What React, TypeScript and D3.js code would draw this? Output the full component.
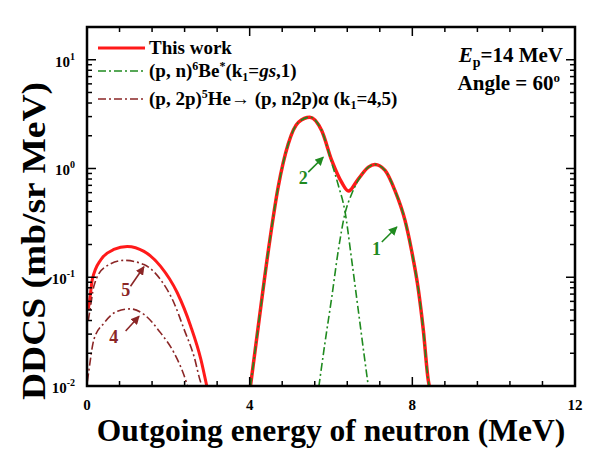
import React from "react";
import * as d3 from "d3";

// outgoing neutron energy (MeV) and DDCS (mb/sr MeV)
const totalLowE = [0.02, 0.05, 0.13, 0.34, 0.66, 0.99, 1.4, 1.81, 2.22, 2.55, 2.8, 2.95];
const totalLowV = [0.05, 0.056, 0.095, 0.145, 0.18, 0.192, 0.173, 0.126, 0.072, 0.0355, 0.0176, 0.0098];
const totalHighE = [4.02, 4.21, 4.46, 4.7, 4.95, 5.2, 5.48, 5.77, 6.02, 6.26, 6.43, 6.67, 6.92, 7.08, 7.33, 7.57, 7.82, 7.98, 8.15, 8.27, 8.39, 8.42];
const totalHighV = [0.01, 0.035, 0.177, 0.673, 1.69, 2.66, 2.96, 2.23, 1.18, 0.748, 0.62, 0.8, 1.03, 1.09, 0.96, 0.63, 0.333, 0.177, 0.076, 0.0327, 0.0114, 0.0098];

const k2E = [4.02, 4.21, 4.46, 4.7, 4.95, 5.2, 5.48, 5.77, 6.02, 6.18, 6.34, 6.51, 6.67, 6.82, 6.92];
const k2V = [0.01, 0.035, 0.177, 0.673, 1.69, 2.66, 2.96, 2.23, 1.12, 0.7, 0.41, 0.143, 0.05, 0.0186, 0.0098];
const k1E = [5.7, 5.85, 6.02, 6.18, 6.34, 6.51, 6.67, 6.92, 7.08, 7.33, 7.57, 7.82, 7.98, 8.15, 8.27, 8.39, 8.42];
const k1V = [0.0098, 0.0247, 0.066, 0.177, 0.38, 0.586, 0.78, 1.03, 1.09, 0.96, 0.63, 0.333, 0.177, 0.076, 0.0327, 0.0114, 0.0098];

const k5E = [0.03, 0.07, 0.17, 0.42, 0.91, 1.4, 1.81, 2.14, 2.39, 2.63, 2.8, 2.84];
const k5V = [0.04, 0.049, 0.083, 0.122, 0.143, 0.131, 0.095, 0.058, 0.033, 0.0188, 0.0107, 0.0098];
const k4E = [0.01, 0.05, 0.17, 0.42, 0.75, 1.07, 1.4, 1.81, 2.14, 2.39, 2.48];
const k4V = [0.011, 0.0142, 0.0268, 0.038, 0.0488, 0.0512, 0.0455, 0.0308, 0.0202, 0.0124, 0.0098];

const xMajor = [0, 4, 8, 12];
const yMajor = [0.01, 0.1, 1, 10];
const yExp = ["-2", "-1", "0", "1"];

// curve labels (text, E, DDCS) and their arrows (from -> to)
const labelText = ["5", "4", "2", "1"];
const labelE = [0.95, 0.66, 5.32, 7.12];
const labelV = [0.067, 0.025, 0.72, 0.16];
const arrowFromE = [1.07, 0.95, 5.44, 7.25];
const arrowFromV = [0.0826, 0.032, 0.925, 0.211];
const arrowToE = [1.4, 1.28, 5.81, 7.62];
const arrowToV = [0.125, 0.0438, 1.27, 0.29];

const RED = "#ff1a1a";
const GREEN = "#1f8a1f";
const BROWN = "#8b2626";
const FONT = "'Liberation Serif', 'Times New Roman', serif";
const DASHDOT = "8 3 2 3";

function zip(es: number[], vs: number[]) {
  return es.map((e, i) => [e, vs[i]] as [number, number]);
}

export default function App() {
  const width = 600, height = 452;
  const left = 87, right = 575, top = 27, bottom = 386;

  const x = d3.scaleLinear().domain([0, 12]).range([left, right]);
  const y = d3.scaleLog().domain([0.01, 20]).range([bottom, top]);

  const line = d3.line<[number, number]>()
    .x(d => x(d[0]))
    .y(d => y(d[1]))
    .curve(d3.curveMonotoneX);

  const xMinor = d3.range(0, 12.001, 0.8).filter(v => !xMajor.some(m => Math.abs(m - v) < 1e-6));
  const yMinor: number[] = [];
  yMajor.forEach(d => {
    for (let k = 2; k <= 9; k++) if (k * d < 20) yMinor.push(k * d);
  });

  const labelColors = [BROWN, BROWN, GREEN, GREEN];

  return (
    <svg width={width} height={height} style={{ position: "absolute", left: 0, top: 0, background: "#fff" }}
      fontFamily={FONT} fontWeight="bold">
      <defs>
        <clipPath id="plot">
          <rect x={left} y={top} width={right - left} height={bottom - top} />
        </clipPath>
        <marker id="headBrown" viewBox="0 0 10 10" refX="9" refY="5" markerWidth="5.5" markerHeight="5.5" orient="auto">
          <path d="M0,0 L10,5 L0,10 z" fill={BROWN} />
        </marker>
        <marker id="headGreen" viewBox="0 0 10 10" refX="9" refY="5" markerWidth="5.5" markerHeight="5.5" orient="auto">
          <path d="M0,0 L10,5 L0,10 z" fill={GREEN} />
        </marker>
      </defs>

      {/* curves */}
      <g clipPath="url(#plot)" fill="none">
        <path d={line(zip(totalLowE, totalLowV)) || ""} stroke={RED} strokeWidth={3} />
        <path d={line(zip(totalHighE, totalHighV)) || ""} stroke={RED} strokeWidth={3.5} />
        <path d={line(zip(k2E, k2V)) || ""} stroke={GREEN} strokeWidth={1.6} strokeDasharray={DASHDOT} />
        <path d={line(zip(k1E, k1V)) || ""} stroke={GREEN} strokeWidth={1.6} strokeDasharray={DASHDOT} />
        <path d={line(zip(k5E, k5V)) || ""} stroke={BROWN} strokeWidth={1.6} strokeDasharray={DASHDOT} />
        <path d={line(zip(k4E, k4V)) || ""} stroke={BROWN} strokeWidth={1.6} strokeDasharray={DASHDOT} />
      </g>

      {/* curve labels and arrows */}
      {labelText.map((t, i) => (
        <g key={t}>
          <text x={x(labelE[i])} y={y(labelV[i])} fontSize={18} textAnchor="middle" fill={labelColors[i]}>{t}</text>
          <line x1={x(arrowFromE[i])} y1={y(arrowFromV[i])} x2={x(arrowToE[i])} y2={y(arrowToV[i])}
            stroke={labelColors[i]} strokeWidth={1.6}
            markerEnd={i < 2 ? "url(#headBrown)" : "url(#headGreen)"} />
        </g>
      ))}

      {/* ticks */}
      <g stroke="#000" strokeWidth={1.5}>
        {xMajor.map(v => (
          <g key={"xM" + v}>
            <line x1={x(v)} x2={x(v)} y1={bottom} y2={bottom - 9} />
            <line x1={x(v)} x2={x(v)} y1={top} y2={top + 9} />
          </g>
        ))}
        {xMinor.map(v => (
          <g key={"xm" + v}>
            <line x1={x(v)} x2={x(v)} y1={bottom} y2={bottom - 5} />
            <line x1={x(v)} x2={x(v)} y1={top} y2={top + 5} />
          </g>
        ))}
        {yMajor.map(v => (
          <g key={"yM" + v}>
            <line x1={left} x2={left + 9} y1={y(v)} y2={y(v)} />
            <line x1={right} x2={right - 9} y1={y(v)} y2={y(v)} />
          </g>
        ))}
        {yMinor.map(v => (
          <g key={"ym" + v}>
            <line x1={left} x2={left + 5} y1={y(v)} y2={y(v)} />
            <line x1={right} x2={right - 5} y1={y(v)} y2={y(v)} />
          </g>
        ))}
      </g>
      <rect x={left} y={top} width={right - left} height={bottom - top} fill="none" stroke="#000" strokeWidth={2.5} />

      {/* tick labels */}
      {xMajor.map(v => (
        <text key={"xl" + v} x={x(v)} y={bottom + 24} fontSize={15} textAnchor="middle">{v}</text>
      ))}
      {yMajor.map((v, i) => (
        <text key={"yl" + v} x={left - 12} y={y(v) + 7} fontSize={15} textAnchor="end">
          10<tspan fontSize={10} dy={-7}>{yExp[i]}</tspan>
        </text>
      ))}

      {/* axis titles */}
      <text x={(left + right) / 2} y={441} fontSize={31.5} textAnchor="middle">
        Outgoing energy of neutron (MeV)
      </text>
      <text transform={`translate(45, 241) rotate(-90)`} fontSize={34} textAnchor="middle"
        textLength={318} lengthAdjust="spacingAndGlyphs">
        DDCS (mb/sr MeV)
      </text>

      {/* legend */}
      <line x1={98} x2={145} y1={48} y2={48} stroke={RED} strokeWidth={3} />
      <text x={149} y={54} fontSize={19}>This work</text>
      <line x1={98} x2={145} y1={71} y2={71} stroke={GREEN} strokeWidth={1.6} strokeDasharray={DASHDOT} />
      <text x={149} y={77} fontSize={19}>
        (p, n)<tspan fontSize={12} dy={-7}>6</tspan><tspan dy={7}>Be</tspan>
        <tspan fontSize={12} dy={-7}>*</tspan><tspan dy={7}>(k</tspan>
        <tspan fontSize={12} dy={4}>1</tspan><tspan dy={-4}>=</tspan>
        <tspan fontStyle="italic">gs</tspan>,1)
      </text>
      <line x1={98} x2={145} y1={99} y2={99} stroke={BROWN} strokeWidth={1.6} strokeDasharray={DASHDOT} />
      <text x={149} y={105} fontSize={19}>
        (p, 2p)<tspan fontSize={12} dy={-7}>5</tspan><tspan dy={7}>He→ (p, n2p)α (k</tspan>
        <tspan fontSize={12} dy={4}>1</tspan><tspan dy={-4}>=4,5)</tspan>
      </text>

      {/* conditions */}
      <text x={563} y={62} fontSize={21} textAnchor="end">
        <tspan fontStyle="italic">E</tspan><tspan fontSize={14} dy={5}>p</tspan><tspan dy={-5}>=14 MeV</tspan>
      </text>
      <text x={560} y={90} fontSize={21} textAnchor="end">
        Angle = 60<tspan fontSize={13} dy={-8}>o</tspan>
      </text>
    </svg>
  );
}
